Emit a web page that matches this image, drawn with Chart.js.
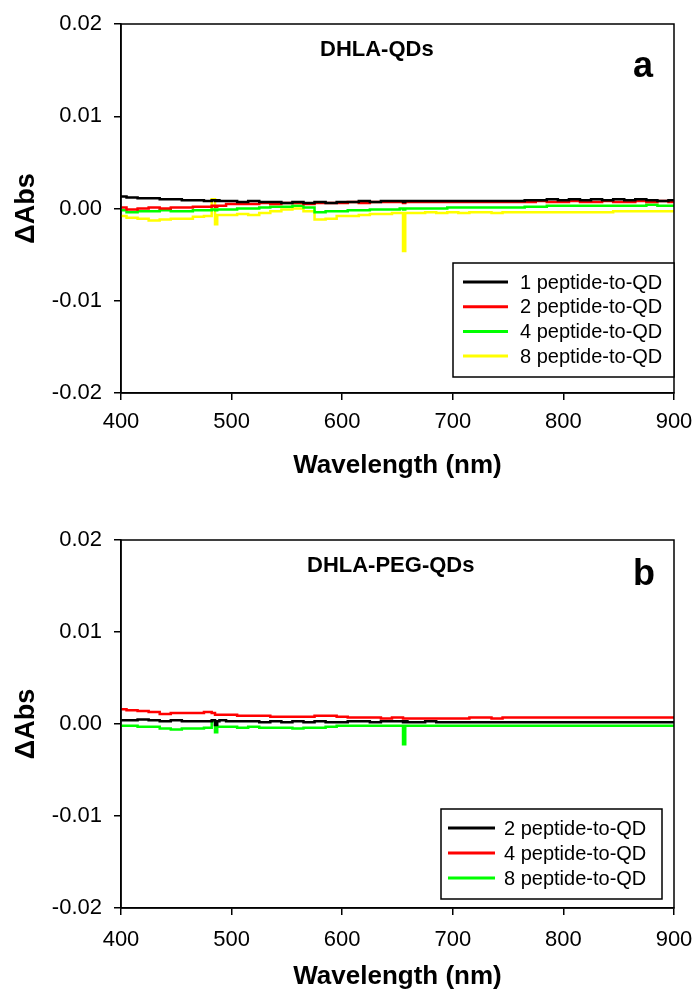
<!DOCTYPE html>
<html>
<head>
<meta charset="utf-8">
<script src="https://cdn.jsdelivr.net/npm/chart.js@4.4.1/dist/chart.umd.min.js"></script>
<style>
  html, body { margin: 0; padding: 0; background: #fff; }
  .panel { position: absolute; left: 0; width: 696px; height: 496px; }
</style>
</head>
<body>
<div class="panel" style="top:0"><canvas id="chartA" width="696" height="496"></canvas></div>
<div class="panel" style="top:496px"><canvas id="chartB" width="696" height="496"></canvas></div>
<script>
// wavelengths (nm), extra points around the two lamp spikes
const wavelengths = [400,410,420,430,440,450,460,470,480,484,486,488,490,500,510,520,530,540,550,560,570,580,590,600,610,620,630,640,650,654,656,658,660,670,680,690,700,710,720,730,740,750,760,770,780,790,800,810,820,830,840,850,860,870,880,890,900];
const xTicks = [400, 500, 600, 700, 800, 900];
const yTicks = [-0.02, -0.01, 0.00, 0.01, 0.02];

// panel a: DHLA-QDs
const dhla1 = [0.0013,0.0012,0.0011,0.0011,0.0010,0.0010,0.0009,0.0009,0.0008,0.0009,0.0008,0.0009,0.0008,0.0008,0.0007,0.0008,0.0007,0.0007,0.0006,0.0007,0.0006,0.0007,0.0006,0.0007,0.0007,0.0008,0.0007,0.0008,0.0008,0.0008,0.0007,0.0008,0.0008,0.0008,0.0008,0.0008,0.0008,0.0008,0.0008,0.0008,0.0008,0.0008,0.0008,0.0009,0.0009,0.0010,0.0009,0.0010,0.0009,0.0010,0.0009,0.0010,0.0009,0.0010,0.0009,0.0008,0.0009];
const dhla2 = [0.0001,-0.0001,0.0000,0.0001,0.0000,0.0001,0.0001,0.0002,0.0002,0.0003,0.0002,0.0003,0.0003,0.0005,0.0005,0.0005,0.0006,0.0005,0.0006,0.0006,0.0005,0.0006,0.0006,0.0006,0.0007,0.0006,0.0007,0.0007,0.0007,0.0007,0.0006,0.0007,0.0007,0.0007,0.0007,0.0007,0.0007,0.0007,0.0007,0.0007,0.0007,0.0007,0.0007,0.0007,0.0008,0.0007,0.0007,0.0008,0.0007,0.0007,0.0008,0.0007,0.0007,0.0008,0.0007,0.0008,0.0007];
const dhla4 = [-0.0002,-0.0004,-0.0003,-0.0003,-0.0002,-0.0003,-0.0003,-0.0002,-0.0002,-0.0001,-0.0002,-0.0001,-0.0001,-0.0001,0.0000,0.0000,0.0001,0.0002,0.0002,0.0003,0.0001,-0.0004,-0.0003,-0.0003,-0.0002,-0.0002,-0.0001,-0.0001,-0.0001,0.0000,-0.0001,0.0000,0.0000,0.0000,0.0000,0.0000,0.0001,0.0001,0.0001,0.0001,0.0001,0.0001,0.0001,0.0002,0.0002,0.0003,0.0003,0.0003,0.0003,0.0003,0.0003,0.0003,0.0003,0.0003,0.0004,0.0003,0.0003];
const dhla8 = [-0.0008,-0.0010,-0.0011,-0.0013,-0.0012,-0.0011,-0.0011,-0.0009,-0.0008,0.0010,-0.0017,-0.0007,-0.0007,-0.0007,-0.0006,-0.0007,-0.0005,-0.0003,-0.0001,0.0000,-0.0003,-0.0012,-0.0011,-0.0008,-0.0008,-0.0007,-0.0006,-0.0006,-0.0005,-0.0005,-0.0046,-0.0005,-0.0005,-0.0005,-0.0004,-0.0005,-0.0004,-0.0005,-0.0004,-0.0004,-0.0005,-0.0004,-0.0004,-0.0004,-0.0004,-0.0004,-0.0004,-0.0004,-0.0004,-0.0004,-0.0004,-0.0003,-0.0003,-0.0003,-0.0003,-0.0003,-0.0003];

// panel b: DHLA-PEG-QDs
const peg2 = [0.0004,0.0004,0.0005,0.0004,0.0003,0.0004,0.0003,0.0003,0.0003,0.0004,-0.0001,0.0003,0.0004,0.0003,0.0003,0.0003,0.0002,0.0003,0.0002,0.0003,0.0002,0.0003,0.0002,0.0002,0.0003,0.0003,0.0002,0.0003,0.0003,0.0003,0.0002,0.0003,0.0002,0.0002,0.0003,0.0002,0.0002,0.0002,0.0002,0.0002,0.0002,0.0002,0.0002,0.0002,0.0002,0.0002,0.0002,0.0002,0.0002,0.0002,0.0002,0.0002,0.0002,0.0002,0.0002,0.0002,0.0002];
const peg4 = [0.0016,0.0015,0.0014,0.0013,0.0011,0.0012,0.0012,0.0012,0.0013,0.0012,0.0010,0.0010,0.0010,0.0010,0.0009,0.0009,0.0009,0.0008,0.0008,0.0008,0.0008,0.0009,0.0009,0.0008,0.0007,0.0007,0.0007,0.0006,0.0007,0.0007,0.0006,0.0006,0.0006,0.0006,0.0006,0.0006,0.0006,0.0006,0.0007,0.0007,0.0006,0.0007,0.0007,0.0007,0.0007,0.0007,0.0007,0.0007,0.0007,0.0007,0.0007,0.0007,0.0007,0.0007,0.0007,0.0007,0.0007];
const peg8 = [-0.0002,-0.0002,-0.0003,-0.0003,-0.0005,-0.0006,-0.0005,-0.0005,-0.0004,0.0003,-0.0009,-0.0003,-0.0003,-0.0003,-0.0004,-0.0003,-0.0004,-0.0004,-0.0004,-0.0005,-0.0004,-0.0004,-0.0003,-0.0002,-0.0002,-0.0002,-0.0002,-0.0002,-0.0002,-0.0002,-0.0022,-0.0002,-0.0002,-0.0002,-0.0002,-0.0002,-0.0002,-0.0002,-0.0002,-0.0002,-0.0002,-0.0002,-0.0002,-0.0002,-0.0002,-0.0002,-0.0002,-0.0002,-0.0002,-0.0002,-0.0002,-0.0002,-0.0002,-0.0002,-0.0002,-0.0002,-0.0002];

const FONT = '"Liberation Sans", Arial, Helvetica, sans-serif';

const toPoints = arr => wavelengths.map((x, i) => ({ x: x, y: arr[i] }));

const series = (label, arr, color) => ({
  label: label,
  data: toPoints(arr),
  borderColor: color,
  backgroundColor: color,
  borderWidth: 2.5,
  pointRadius: 0,
  stepped: 'middle',
  fill: false
});

// box round the plot area (top and right sides have no ticks)
const framePlugin = {
  id: 'frame',
  afterDatasetsDraw(chart) {
    const { ctx, chartArea: a } = chart;
    ctx.save();
    ctx.strokeStyle = '#000';
    ctx.lineWidth = 1.5;
    ctx.strokeRect(a.left, a.top, a.right - a.left, a.bottom - a.top);
    ctx.restore();
  }
};

// inset title, panel letter and boxed legend
const insetPlugin = {
  id: 'inset',
  afterDraw(chart, args, opts) {
    const ctx = chart.ctx;
    ctx.save();
    ctx.fillStyle = '#000';
    ctx.textAlign = 'left';
    ctx.textBaseline = 'alphabetic';
    ctx.font = 'bold 22px ' + FONT;
    ctx.fillText(opts.title, opts.titleX, opts.titleY);
    ctx.font = 'bold 36px ' + FONT;
    ctx.fillText(opts.tag, opts.tagX, opts.tagY);

    const b = opts.box;
    ctx.fillStyle = '#fff';
    ctx.fillRect(b.x, b.y, b.w, b.h);
    ctx.strokeStyle = '#000';
    ctx.lineWidth = 1.5;
    ctx.strokeRect(b.x, b.y, b.w, b.h);
    ctx.font = '20px ' + FONT;
    ctx.textBaseline = 'middle';
    chart.data.datasets.forEach((ds, i) => {
      const y = b.rowY + i * b.rowGap;
      ctx.strokeStyle = ds.borderColor;
      ctx.lineWidth = 3;
      ctx.beginPath();
      ctx.moveTo(b.lineX1, y);
      ctx.lineTo(b.lineX2, y);
      ctx.stroke();
      ctx.fillStyle = '#000';
      ctx.fillText(ds.label, b.textX, y + 1);
    });
    ctx.restore();
  }
};

function makeChart(id, datasets, padTop, xHeight, tickPad, titlePad, inset) {
  const ctx = document.getElementById(id).getContext('2d');
  return new Chart(ctx, {
    type: 'line',
    data: { datasets: datasets },
    options: {
      responsive: false,
      animation: false,
      layout: { padding: { top: padTop, right: 22, left: 0, bottom: 0 } },
      plugins: {
        legend: { display: false },
        tooltip: { enabled: false },
        inset: inset
      },
      scales: {
        x: {
          type: 'linear',
          min: 400,
          max: 900,
          afterBuildTicks: s => { s.ticks = xTicks.map(v => ({ value: v })); },
          afterFit: s => {
            s.height = xHeight;
            s.paddingLeft = 0;
            s.paddingRight = 0;
          },
          ticks: {
            color: '#000',
            font: { family: FONT, size: 22 },
            padding: tickPad,
            maxRotation: 0
          },
          grid: { drawOnChartArea: false, drawTicks: true, tickLength: 7, color: '#000', lineWidth: 1.5 },
          border: { display: true, color: '#000', width: 1.5 },
          title: {
            display: true,
            text: 'Wavelength (nm)',
            color: '#000',
            font: { family: FONT, size: 26, weight: 'bold' },
            padding: { top: 0, bottom: titlePad }
          }
        },
        y: {
          min: -0.02,
          max: 0.02,
          afterBuildTicks: s => { s.ticks = yTicks.map(v => ({ value: v })); },
          afterFit: s => {
            s.width = 121;
            s.paddingTop = 0;
            s.paddingBottom = 0;
          },
          ticks: {
            color: '#000',
            font: { family: FONT, size: 22 },
            padding: 12,
            callback: v => (Math.abs(v) < 1e-9 ? 0 : v).toFixed(2)
          },
          grid: { drawOnChartArea: false, drawTicks: true, tickLength: 7, color: '#000', lineWidth: 1.5 },
          border: { display: true, color: '#000', width: 1.5 },
          title: {
            display: true,
            text: '\u0394Abs',
            color: '#000',
            font: { family: FONT, size: 27, weight: 'bold' },
            padding: { top: 10 }
          }
        }
      }
    },
    plugins: [framePlugin, insetPlugin]
  });
}

makeChart('chartA', [
  series('1 peptide-to-QD', dhla1, '#000000'),
  series('2 peptide-to-QD', dhla2, '#ff0000'),
  series('4 peptide-to-QD', dhla4, '#00ff00'),
  series('8 peptide-to-QD', dhla8, '#ffff00')
], 24, 103, 9, 15, {
  title: 'DHLA-QDs', titleX: 320, titleY: 56,
  tag: 'a', tagX: 633, tagY: 77,
  box: { x: 453, y: 263, w: 221, h: 114, rowY: 282, rowGap: 24.7, lineX1: 463, lineX2: 508, textX: 520 }
});

makeChart('chartB', [
  series('2 peptide-to-QD', peg2, '#000000'),
  series('4 peptide-to-QD', peg4, '#ff0000'),
  series('8 peptide-to-QD', peg8, '#00ff00')
], 44, 84, 12, 0, {
  title: 'DHLA-PEG-QDs', titleX: 307, titleY: 76,
  tag: 'b', tagX: 633, tagY: 89,
  box: { x: 441, y: 313, w: 221, h: 90, rowY: 332, rowGap: 25, lineX1: 448, lineX2: 495, textX: 504 }
});
</script>
</body>
</html>
